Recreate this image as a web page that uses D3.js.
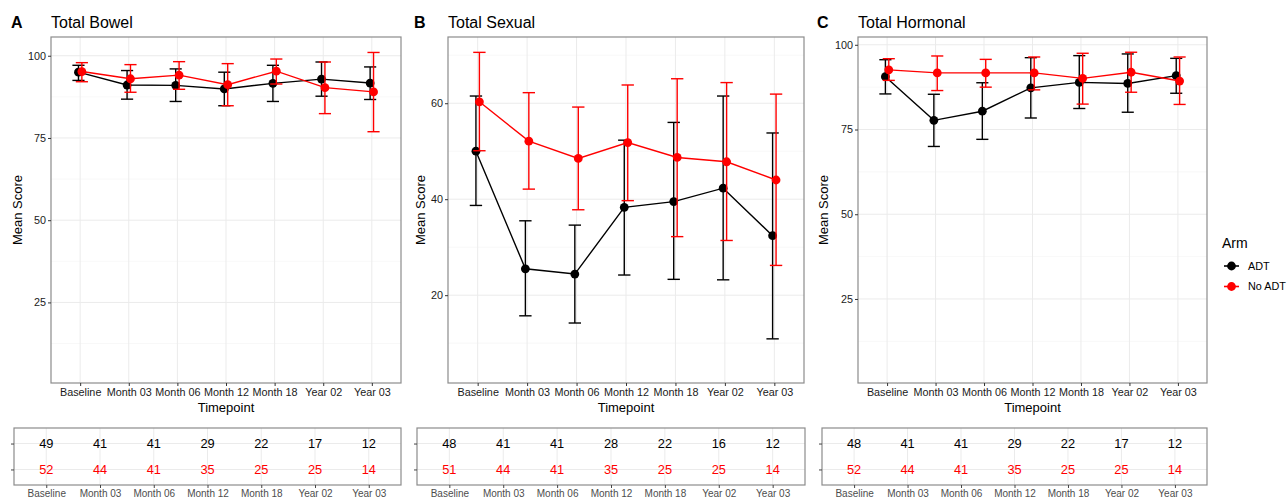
<!DOCTYPE html>
<html>
<head>
<meta charset="utf-8">
<script src="https://cdn.jsdelivr.net/npm/d3@7"></script>
<style>
  body { margin: 0; background: #fff; }
  svg { font-family: "Liberation Sans", Arial, sans-serif; }
</style>
</head>
<body>
<div id="chart"></div>
<script>
// timepoints and arms
var timepoints = ["Baseline", "Month 03", "Month 06", "Month 12", "Month 18", "Year 02", "Year 03"];
var arms = ["ADT", "No ADT"];
var armColors = ["#000000", "#ff0000"];

// Total Bowel
var bowelAdtMean = [95.0, 91.1, 91.0, 89.9, 91.6, 92.9, 91.7];
var bowelAdtLow  = [92.5, 86.8, 86.1, 84.8, 86.1, 87.7, 86.7];
var bowelAdtHigh = [97.1, 95.5, 96.0, 95.0, 97.1, 98.1, 96.6];
var bowelNoMean  = [95.2, 93.0, 94.1, 91.2, 95.3, 90.3, 89.0];
var bowelNoLow   = [92.1, 88.9, 89.8, 84.8, 91.4, 82.4, 76.9];
var bowelNoHigh  = [97.9, 97.3, 98.2, 97.6, 99.0, 98.1, 101.0];
var bowelAdtN = [49, 41, 41, 29, 22, 17, 12];
var bowelNoN  = [52, 44, 41, 35, 25, 25, 14];

// Total Sexual
var sexualAdtMean = [50.0, 25.5, 24.4, 38.3, 39.5, 42.3, 32.4];
var sexualAdtLow  = [38.7, 15.7, 14.2, 24.2, 23.3, 23.2, 10.9];
var sexualAdtHigh = [61.5, 35.5, 34.6, 52.3, 56.0, 61.5, 53.8];
var sexualNoMean  = [60.3, 52.1, 48.5, 51.8, 48.7, 47.8, 44.0];
var sexualNoLow   = [50.1, 42.1, 37.8, 39.7, 32.2, 31.4, 26.2];
var sexualNoHigh  = [70.6, 62.2, 59.2, 63.8, 65.1, 64.3, 61.9];
var sexualAdtN = [48, 41, 41, 28, 22, 16, 12];
var sexualNoN  = [51, 44, 41, 35, 25, 25, 14];

// Total Hormonal
var hormAdtMean = [90.6, 77.7, 80.4, 87.3, 88.9, 88.6, 90.9];
var hormAdtLow  = [85.5, 70.0, 72.1, 78.4, 81.2, 80.1, 85.7];
var hormAdtHigh = [95.6, 85.4, 88.8, 96.2, 96.8, 97.3, 96.0];
var hormNoMean  = [92.6, 91.7, 91.7, 91.7, 90.1, 91.9, 89.3];
var hormNoLow   = [89.5, 86.5, 87.5, 86.7, 82.5, 86.0, 82.4];
var hormNoHigh  = [95.9, 96.7, 95.7, 96.4, 97.5, 97.8, 96.4];
var hormAdtN = [48, 41, 41, 29, 22, 17, 12];
var hormNoN  = [52, 44, 41, 35, 25, 25, 14];

// y axis ranges / ticks
var bowelDomain = [0.5, 105.7], bowelTicks = [25, 50, 75, 100];
var sexualDomain = [1.7, 73.8], sexualTicks = [20, 40, 60];
var hormDomain = [0.2, 102.3], hormTicks = [25, 50, 75, 100];

function series(mean, low, high) {
  return timepoints.map(function(t, i) { return {t: t, m: mean[i], lo: low[i], hi: high[i]}; });
}

var panels = [
  {tag: "A", title: "Total Bowel", domain: bowelDomain, ticks: bowelTicks,
   data: [series(bowelAdtMean, bowelAdtLow, bowelAdtHigh), series(bowelNoMean, bowelNoLow, bowelNoHigh)],
   n: [bowelAdtN, bowelNoN], px: [51, 401], tx: [14, 401], tagX: 11, labX: 17},
  {tag: "B", title: "Total Sexual", domain: sexualDomain, ticks: sexualTicks,
   data: [series(sexualAdtMean, sexualAdtLow, sexualAdtHigh), series(sexualNoMean, sexualNoLow, sexualNoHigh)],
   n: [sexualAdtN, sexualNoN], px: [448, 804], tx: [417, 805], tagX: 414, labX: 420},
  {tag: "C", title: "Total Hormonal", domain: hormDomain, ticks: hormTicks,
   data: [series(hormAdtMean, hormAdtLow, hormAdtHigh), series(hormNoMean, hormNoLow, hormNoHigh)],
   n: [hormAdtN, hormNoN], px: [858, 1207], tx: [822, 1207], tagX: 817, labX: 823}
];

var W = 1287, H = 500;
var plotTop = 37, plotBottom = 383;
var tabTop = 428, tabBottom = 485;
var gridCol = "#ebebeb", borderCol = "#8c8c8c", textCol = "#1a1a1a";

var svg = d3.select("#chart").append("svg")
  .attr("width", W)
  .attr("height", H);

panels.forEach(function(p) {
  var x = d3.scalePoint()
    .domain(timepoints)
    .range(p.px)
    .padding(0.6);
  var y = d3.scaleLinear()
    .domain(p.domain)
    .range([plotBottom, plotTop]);
  var step = x.step();
  var dodge = [-0.035 * step, 0.035 * step];
  var capW = 0.125 * step;

  var g = svg.append("g");

  // minor grid
  var minors = [];
  var tk = p.ticks, dt = tk[1] - tk[0];
  for (var i = 0; i <= tk.length; i++) {
    var v = tk[0] - dt / 2 + i * dt;
    if (v > p.domain[0] && v < p.domain[1]) minors.push(v);
  }
  g.selectAll(".minor")
    .data(minors)
    .enter().append("line")
      .attr("x1", p.px[0]).attr("x2", p.px[1])
      .attr("y1", function(d) { return y(d); })
      .attr("y2", function(d) { return y(d); })
      .style("stroke", "#f3f3f3").style("stroke-width", 0.6);
  // major grid
  g.selectAll(".hmaj")
    .data(p.ticks)
    .enter().append("line")
      .attr("x1", p.px[0]).attr("x2", p.px[1])
      .attr("y1", function(d) { return y(d); })
      .attr("y2", function(d) { return y(d); })
      .style("stroke", gridCol).style("stroke-width", 1);
  g.selectAll(".vmaj")
    .data(timepoints)
    .enter().append("line")
      .attr("x1", function(d) { return x(d); })
      .attr("x2", function(d) { return x(d); })
      .attr("y1", plotTop).attr("y2", plotBottom)
      .style("stroke", gridCol).style("stroke-width", 1);

  // each arm: error bars, line, points
  p.data.forEach(function(s, k) {
    var col = armColors[k];
    var ag = g.append("g");
    var eb = ag.selectAll(".eb").data(s).enter().append("g");
    eb.append("line")
      .attr("x1", function(d) { return x(d.t) + dodge[k]; })
      .attr("x2", function(d) { return x(d.t) + dodge[k]; })
      .attr("y1", function(d) { return y(d.lo); })
      .attr("y2", function(d) { return y(d.hi); });
    eb.append("line")
      .attr("x1", function(d) { return x(d.t) + dodge[k] - capW; })
      .attr("x2", function(d) { return x(d.t) + dodge[k] + capW; })
      .attr("y1", function(d) { return y(d.lo); })
      .attr("y2", function(d) { return y(d.lo); });
    eb.append("line")
      .attr("x1", function(d) { return x(d.t) + dodge[k] - capW; })
      .attr("x2", function(d) { return x(d.t) + dodge[k] + capW; })
      .attr("y1", function(d) { return y(d.hi); })
      .attr("y2", function(d) { return y(d.hi); });
    eb.selectAll("line").style("stroke", col).style("stroke-width", 1.4);

    ag.append("path")
      .datum(s)
      .attr("d", d3.line()
        .x(function(d) { return x(d.t) + dodge[k]; })
        .y(function(d) { return y(d.m); }))
      .style("fill", "none")
      .style("stroke", col)
      .style("stroke-width", 1.4);

    ag.selectAll(".pt").data(s).enter().append("circle")
      .attr("cx", function(d) { return x(d.t) + dodge[k]; })
      .attr("cy", function(d) { return y(d.m); })
      .attr("r", 4.4)
      .style("fill", col);
  });

  // border
  g.append("rect")
    .attr("x", p.px[0]).attr("y", plotTop)
    .attr("width", p.px[1] - p.px[0]).attr("height", plotBottom - plotTop)
    .style("fill", "none").style("stroke", borderCol).style("stroke-width", 1.2);

  // axes
  var yax = g.append("g")
    .attr("transform", "translate(" + p.px[0] + ",0)")
    .call(d3.axisLeft(y).tickValues(p.ticks).tickSize(3).tickPadding(2));
  var xax = g.append("g")
    .attr("transform", "translate(0," + plotBottom + ")")
    .call(d3.axisBottom(x).tickSize(3).tickPadding(2));
  [yax, xax].forEach(function(a) {
    a.select(".domain").remove();
    a.selectAll(".tick line").style("stroke", "#333");
    a.selectAll("text").style("fill", textCol).style("font-size", "10.8px")
      .style("font-family", "Liberation Sans, Arial, sans-serif");
  });

  // titles
  g.append("text")
    .attr("x", p.tagX).attr("y", 28)
    .text(p.tag)
    .style("font-weight", "bold").style("font-size", "16px");
  g.append("text")
    .attr("x", p.px[0]).attr("y", 28)
    .text(p.title)
    .style("font-size", "16px");
  g.append("text")
    .attr("transform", "translate(" + p.labX + "," + ((plotTop + plotBottom) / 2) + ") rotate(-90)")
    .attr("text-anchor", "middle")
    .attr("dy", "0.35em")
    .text("Mean Score")
    .style("font-size", "13px");
  g.append("text")
    .attr("x", (p.px[0] + p.px[1]) / 2).attr("y", 412)
    .attr("text-anchor", "middle")
    .text("Timepoint")
    .style("font-size", "13px");

  // ---------------
  // risk table
  var tx = d3.scalePoint()
    .domain(timepoints)
    .range(p.tx)
    .padding(0.6);
  var ty = d3.scalePoint()
    .domain(arms)
    .range([tabTop, tabBottom])
    .padding(0.6);

  var tg = svg.append("g");
  tg.selectAll(".th")
    .data(arms)
    .enter().append("line")
      .attr("x1", p.tx[0]).attr("x2", p.tx[1])
      .attr("y1", function(d) { return ty(d); })
      .attr("y2", function(d) { return ty(d); })
      .style("stroke", gridCol);
  tg.selectAll(".tv")
    .data(timepoints)
    .enter().append("line")
      .attr("x1", function(d) { return tx(d); })
      .attr("x2", function(d) { return tx(d); })
      .attr("y1", tabTop).attr("y2", tabBottom)
      .style("stroke", gridCol);

  arms.forEach(function(a, k) {
    tg.selectAll(".n" + k)
      .data(p.n[k])
      .enter().append("text")
        .attr("x", function(d, i) { return tx(timepoints[i]); })
        .attr("y", ty(a))
        .attr("text-anchor", "middle")
        .attr("dy", "0.36em")
        .text(function(d) { return d; })
        .style("fill", armColors[k])
        .style("font-size", "12.8px");
  });

  tg.append("rect")
    .attr("x", p.tx[0]).attr("y", tabTop)
    .attr("width", p.tx[1] - p.tx[0]).attr("height", tabBottom - tabTop)
    .style("fill", "none").style("stroke", borderCol).style("stroke-width", 1.2);

  var tyax = tg.append("g")
    .attr("transform", "translate(" + p.tx[0] + ",0)")
    .call(d3.axisLeft(ty).tickSize(3).tickFormat(""));
  var txax = tg.append("g")
    .attr("transform", "translate(0," + tabBottom + ")")
    .call(d3.axisBottom(tx).tickSize(3).tickPadding(2));
  [tyax, txax].forEach(function(a) {
    a.select(".domain").remove();
    a.selectAll(".tick line").style("stroke", "#444");
    a.selectAll("text").style("fill", "#4d4d4d").style("font-size", "10px")
      .style("font-family", "Liberation Sans, Arial, sans-serif");
  });
});

// legend
var lg = svg.append("g").attr("transform", "translate(1222,0)");
lg.append("text")
  .attr("x", 0).attr("y", 248)
  .text("Arm")
  .style("font-size", "14px");
arms.forEach(function(a, k) {
  var yy = 266 + k * 20.5;
  lg.append("line")
    .attr("x1", 2).attr("x2", 17)
    .attr("y1", yy).attr("y2", yy)
    .style("stroke", armColors[k]).style("stroke-width", 1.6);
  lg.append("circle")
    .attr("cx", 9.5).attr("cy", yy).attr("r", 4.4)
    .style("fill", armColors[k]);
  lg.append("text")
    .attr("x", 26).attr("y", yy)
    .attr("dy", "0.35em")
    .text(a)
    .style("font-size", "10.8px");
});
</script>
</body>
</html>
